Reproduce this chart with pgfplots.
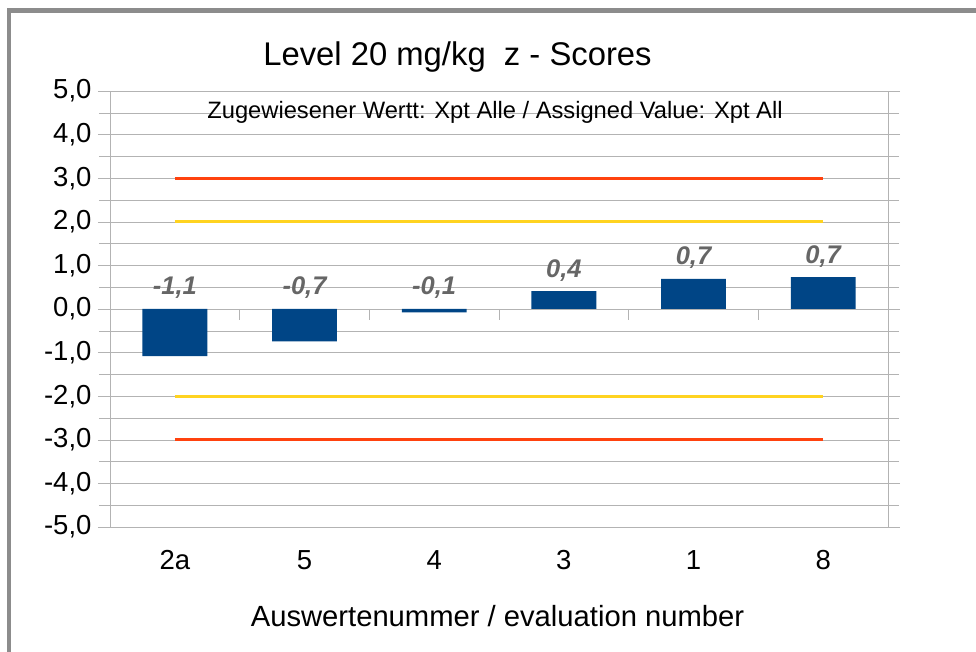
\documentclass[border=0pt]{standalone}
\usepackage{pgfplots}
\pgfplotsset{compat=1.18}
\usepackage{fontspec}
\setmainfont{Liberation Sans}
\definecolor{barblue}{HTML}{004586}
\definecolor{lored}{HTML}{FF420E}
\definecolor{loyellow}{HTML}{FFD320}
\definecolor{gridgray}{HTML}{B3B3B3}
\definecolor{framegray}{HTML}{8C8C8C}
\definecolor{labgray}{HTML}{666666}
\begin{document}
\begin{tikzpicture}
\useasboundingbox (0,0) rectangle (976bp,652bp);
\draw[framegray, line width=4.5bp] (9bp,0) -- (9bp,641.7bp) -- (976bp,641.7bp);
\begin{axis}[
  at={(110bp,125bp)}, anchor=south west,
  scale only axis, width=778bp, height=436bp,
  xmin=-0.5, xmax=5.5, ymin=-5, ymax=5,
  axis line style={gridgray},
  xtick={0,1,2,3,4,5},
  xticklabels={2a,5,4,3,1,8},
  minor xtick={-0.5,0.5,1.5,2.5,3.5,4.5,5.5},
  xtick style={draw=none},
  minor x tick style={gridgray},
  ytick={-5,-4,...,5},
  minor ytick={-4.5,-3.5,...,4.5},
  y tick style={gridgray},
  minor y tick style={gridgray},
  tick align=outside,
  major tick length=12bp, minor tick length=11bp,
  ymajorgrids, yminorgrids,
  major grid style={gridgray}, minor grid style={gridgray},
  /pgf/number format/.cd, fixed, fixed zerofill, precision=1, use comma, assume math mode=true,
  /pgfplots/.cd,
  ticklabel style={font=\fontsize{27.5bp}{31bp}\selectfont},
  xticklabel style={yshift=-8bp},
  yticklabel style={xshift=-3bp},
  clip=false,
]
\draw[gridgray] (axis cs:0.5,0) -- ([yshift=-11bp]axis cs:0.5,0);
\draw[gridgray] (axis cs:1.5,0) -- ([yshift=-11bp]axis cs:1.5,0);
\draw[gridgray] (axis cs:2.5,0) -- ([yshift=-11bp]axis cs:2.5,0);
\draw[gridgray] (axis cs:3.5,0) -- ([yshift=-11bp]axis cs:3.5,0);
\draw[gridgray] (axis cs:4.5,0) -- ([yshift=-11bp]axis cs:4.5,0);
\addplot[ybar, bar width=0.5, bar shift=0pt, fill=barblue, draw=none] coordinates {
  (0,-1.08) (1,-0.74) (2,-0.08) (3,0.41) (4,0.69) (5,0.73)
};
\addplot[lored, line width=3bp] coordinates {(0,3) (5,3)};
\addplot[lored, line width=3bp] coordinates {(0,-3) (5,-3)};
\addplot[loyellow, line width=3bp] coordinates {(0,2) (5,2)};
\addplot[loyellow, line width=3bp] coordinates {(0,-2) (5,-2)};
\addplot[draw=none, mark=none, nodes near coords, point meta=explicit symbolic,
  every node near coord/.style={anchor=base, yshift=14bp, text=labgray,
  font=\fontsize{25.5bp}{29bp}\selectfont\bfseries\itshape}]
  coordinates {(0,0)[-1,1] (1,0)[-0,7] (2,0)[-0,1] (3,0.41)[0,4] (4,0.69)[0,7] (5,0.73)[0,7]};
\end{axis}
\node[anchor=base, font=\fontsize{32.8bp}{36bp}\selectfont] at (457.5bp,586bp) {Level 20 mg/kg\ \ z - Scores};
\node[anchor=base, font=\fontsize{23.7bp}{27bp}\selectfont] at (495bp,533bp) {Zugewiesener Wertt: Xpt Alle / Assigned Value: Xpt All};
\node[anchor=base, font=\fontsize{29.2bp}{33bp}\selectfont] at (497.5bp,25.3bp) {Auswertenummer / evaluation number};
\end{tikzpicture}
\end{document}
